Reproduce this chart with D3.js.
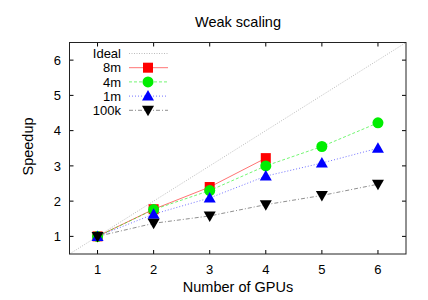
<!DOCTYPE html>
<html>
<head>
<meta charset="utf-8">
<script src="https://cdn.jsdelivr.net/npm/d3@7"></script>
<style>
  body { margin: 0; background: #fff; }
  svg { display: block; font-family: "Liberation Sans", Arial, sans-serif; }
</style>
</head>
<body>
<div id="chart"></div>
<script>
// data
const gpus = [1, 2, 3, 4, 5, 6];
const s8m = [1, 1.77, 2.4, 3.22];
const s4m = [1, 1.76, 2.3, 3.0, 3.55, 4.22];
const s1m = [1, 1.63, 2.09, 2.71, 3.08, 3.5];
const s100k = [1, 1.37, 1.58, 1.9, 2.16, 2.48];
const xTicks = [1, 2, 3, 4, 5, 6];
const yTicks = [1, 2, 3, 4, 5, 6];

const width = 428, height = 300;
const margin = { top: 42.5, right: 22, bottom: 46, left: 69.5 };

const svg = d3.select("#chart").append("svg")
    .attr("width", width)
    .attr("height", height);

const x = d3.scaleLinear().domain([0.5, 6.5]).range([margin.left, width - margin.right]);
const y = d3.scaleLinear().domain([0.5, 6.5]).range([height - margin.bottom, margin.top]);

// ticks, gnuplot style (inward, mirrored)
const tk = 4;
const axes = svg.append("g").attr("stroke", "#000").attr("stroke-width", 1);
xTicks.forEach(t => {
    axes.append("line").attr("x1", x(t)).attr("x2", x(t)).attr("y1", y.range()[0]).attr("y2", y.range()[0] - tk);
    axes.append("line").attr("x1", x(t)).attr("x2", x(t)).attr("y1", y.range()[1]).attr("y2", y.range()[1] + tk);
});
yTicks.forEach(t => {
    axes.append("line").attr("y1", y(t)).attr("y2", y(t)).attr("x1", x.range()[0]).attr("x2", x.range()[0] + tk);
    axes.append("line").attr("y1", y(t)).attr("y2", y(t)).attr("x1", x.range()[1]).attr("x2", x.range()[1] - tk);
});

svg.append("g").selectAll("text").data(xTicks).join("text")
    .attr("x", d => x(d)).attr("y", 273.5)
    .attr("text-anchor", "middle").attr("font-size", 13).text(d => d);
svg.append("g").selectAll("text").data(yTicks).join("text")
    .attr("x", x.range()[0] - 8.5).attr("y", d => y(d) + 4.7)
    .attr("text-anchor", "end").attr("font-size", 13).text(d => d);

// ideal
svg.append("line")
    .attr("x1", x(0.5)).attr("y1", y(0.5)).attr("x2", x(6.5)).attr("y2", y(6.5))
    .attr("stroke", "#aaa").attr("stroke-width", 0.8).attr("stroke-dasharray", "1,1.5");

const series = [
    { name: "8m", vals: s8m, color: "#ff0000", dash: null, mark: "square" },
    { name: "4m", vals: s4m, color: "#00ee00", dash: "3,2", mark: "circle" },
    { name: "1m", vals: s1m, color: "#0000ff", dash: "1,2", mark: "triangle" },
    { name: "100k", vals: s100k, color: "#333", dash: "4,2,1,2", mark: "tridown" }
];

const line = d3.line().x((d, i) => x(gpus[i])).y(d => y(d));

function marker(g, type, cx, cy, color) {
    if (type === "square") {
        g.append("rect").attr("x", cx - 5).attr("y", cy - 5).attr("width", 10).attr("height", 10).attr("fill", color);
    } else if (type === "circle") {
        g.append("circle").attr("cx", cx).attr("cy", cy).attr("r", 5.5).attr("fill", color);
    } else if (type === "triangle") {
        g.append("path").attr("d", `M${cx},${cy - 6}L${cx + 6},${cy + 4.5}L${cx - 6},${cy + 4.5}Z`).attr("fill", color);
    } else {
        g.append("path").attr("d", `M${cx},${cy + 6}L${cx + 6},${cy - 4.5}L${cx - 6},${cy - 4.5}Z`).attr("fill", "#000");
    }
}

series.forEach(s => {
    svg.append("path").datum(s.vals)
        .attr("d", line)
        .attr("fill", "none")
        .attr("stroke", s.color)
        .attr("stroke-opacity", 0.55)
        .attr("stroke-width", 1)
        .attr("stroke-dasharray", s.dash);
});
series.forEach(s => {
    const g = svg.append("g");
    s.vals.forEach((v, i) => marker(g, s.mark, x(gpus[i]), y(v), s.color));
});

// frame
svg.append("rect")
    .attr("x", x.range()[0]).attr("y", y.range()[1])
    .attr("width", x.range()[1] - x.range()[0]).attr("height", y.range()[0] - y.range()[1])
    .attr("fill", "none").attr("stroke", "#222").attr("stroke-width", 1);

// legend
const legendItems = [{ name: "Ideal", color: "#aaa", dash: "1,1.5", mark: null }].concat(series);
const leg = svg.append("g");
legendItems.forEach((d, i) => {
    const ly = 53.5 + i * 14.2;
    leg.append("text").attr("x", 121).attr("y", ly + 4.7).attr("text-anchor", "end")
        .attr("font-size", 13).text(d.name);
    leg.append("line").attr("x1", 129).attr("x2", 168).attr("y1", ly).attr("y2", ly)
        .attr("stroke", d.color).attr("stroke-opacity", d.mark ? 0.55 : 1)
        .attr("stroke-width", d.mark ? 1 : 0.8).attr("stroke-dasharray", d.dash);
    if (d.mark) marker(leg, d.mark, 148, ly, d.color);
});

// titles
svg.append("text").attr("x", 238).attr("y", 26.5).attr("text-anchor", "middle")
    .attr("font-size", 14.5).text("Weak scaling");
svg.append("text").attr("x", 238).attr("y", 292).attr("text-anchor", "middle")
    .attr("font-size", 14.5).text("Number of GPUs");
svg.append("text").attr("transform", "translate(32.5,146.5) rotate(-90)").attr("text-anchor", "middle")
    .attr("font-size", 14.5).text("Speedup");
</script>
</body>
</html>
